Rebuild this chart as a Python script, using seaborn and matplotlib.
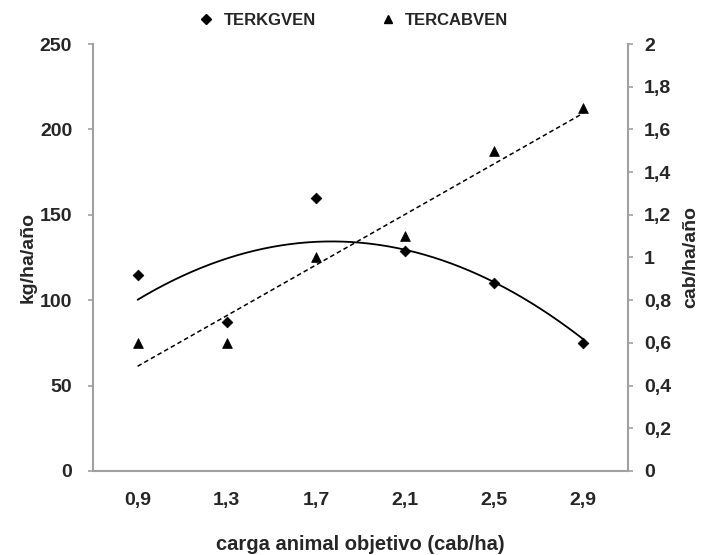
import numpy as np
import pandas as pd
import matplotlib
matplotlib.use("Agg")
import matplotlib.pyplot as plt
import seaborn as sns
from matplotlib.lines import Line2D

sns.set_theme(style="white")
plt.rcParams["font.family"] = ["Liberation Sans", "DejaVu Sans"]
plt.rcParams["font.weight"] = "bold"

# Stocking rate categories and the two response series
carga = ["0,9", "1,3", "1,7", "2,1", "2,5", "2,9"]
terkgven = [115, 87, 160, 129, 110, 75]          # kg/ha/año (left axis)
tercabven = [0.6, 0.6, 1.0, 1.1, 1.5, 1.7]       # cab/ha/año (right axis)
left_ticks = [0, 50, 100, 150, 200, 250]
right_ticks = [0, 0.2, 0.4, 0.6, 0.8, 1.0, 1.2, 1.4, 1.6, 1.8, 2.0]
right_labels = ["0", "0,2", "0,4", "0,6", "0,8", "1", "1,2", "1,4", "1,6", "1,8", "2"]

pos = np.arange(len(carga))
df = pd.DataFrame({"pos": pos, "kg": terkgven, "cab": tercabven})

# Trendlines: polynomial (order 2) for kg, linear for cab
xs = np.linspace(pos[0], pos[-1], 200)
kg_fit = np.polyval(np.polyfit(pos + 1, terkgven, 2), xs + 1)
cab_fit = np.polyval(np.polyfit(pos + 1, tercabven, 1), xs + 1)
fit = pd.DataFrame({"x": xs, "kg": kg_fit, "cab": cab_fit})

fig = plt.figure(figsize=(7.02, 5.55), dpi=100)
ax = fig.add_axes([0.1325, 0.1514, 0.762, 0.7693])
ax2 = ax.twinx()

gray = "#a0a0a0"
fs = 14

sns.lineplot(data=fit, x="x", y="kg", ax=ax, color="black", lw=1.3)
sns.scatterplot(data=df, x="pos", y="kg", ax=ax, marker="D", s=30,
                color="black", edgecolor="black", linewidth=0.5, zorder=3)

sns.lineplot(data=fit, x="x", y="cab", ax=ax2, color="black", lw=1.1)
ax2.lines[-1].set_linestyle((0, (3, 2)))
sns.scatterplot(data=df, x="pos", y="cab", ax=ax2, marker="^", s=50,
                color="black", edgecolor="black", linewidth=0.5, zorder=3)

ax.set_xlim(-0.5, len(carga) - 0.5)
ax.set_ylim(0, 250)
ax2.set_ylim(0, 2)

ax.set_xticks(pos)
ax.set_xticklabels(carga)
ax.set_xticks(np.arange(-0.5, len(carga)), minor=True)
ax.tick_params(axis="x", which="major", length=0, pad=15, labelsize=fs)
ax.tick_params(axis="x", which="minor", length=4, width=1.2, color=gray, direction="out")
ax.set_yticks(left_ticks)
ax.set_yticklabels([str(t) for t in left_ticks])
ax.tick_params(axis="y", length=3.5, width=1.2, color=gray, direction="out",
               pad=11.5, labelsize=fs, left=True)
ax2.set_yticks(right_ticks)
ax2.set_yticklabels(right_labels)
ax2.tick_params(axis="y", length=3.5, width=1.2, color=gray, direction="out",
                pad=8, labelsize=fs, right=True)

for a in (ax, ax2):
    a.spines["top"].set_visible(False)
    for side in ("left", "right", "bottom"):
        a.spines[side].set_color(gray)
        a.spines[side].set_linewidth(1.5)
ax.spines["right"].set_visible(False)
ax2.spines["left"].set_visible(False)
ax2.spines["bottom"].set_visible(False)

ax.set_xlabel("carga animal objetivo (cab/ha)", fontsize=14.5, fontweight="bold", labelpad=19)
ax.set_ylabel("kg/ha/año", fontsize=fs, fontweight="bold")
ax2.set_ylabel("cab/ha/año", fontsize=fs, fontweight="bold")
ax.yaxis.set_label_coords(-0.106, 0.5)
ax2.yaxis.set_label_coords(1.102, 0.5)

handles = [
    Line2D([], [], marker="D", color="black", ls="none", markersize=5),
    Line2D([], [], marker="^", color="black", ls="none", markersize=6),
]
fig.legend(handles, ["TERKGVEN", "TERCABVEN"], loc="center", ncol=2,
           bbox_to_anchor=(0.497, 0.963), frameon=False, handletextpad=0.05,
           columnspacing=3.3, prop={"weight": "bold", "size": 12})

fig.savefig("out.png", dpi=100)
